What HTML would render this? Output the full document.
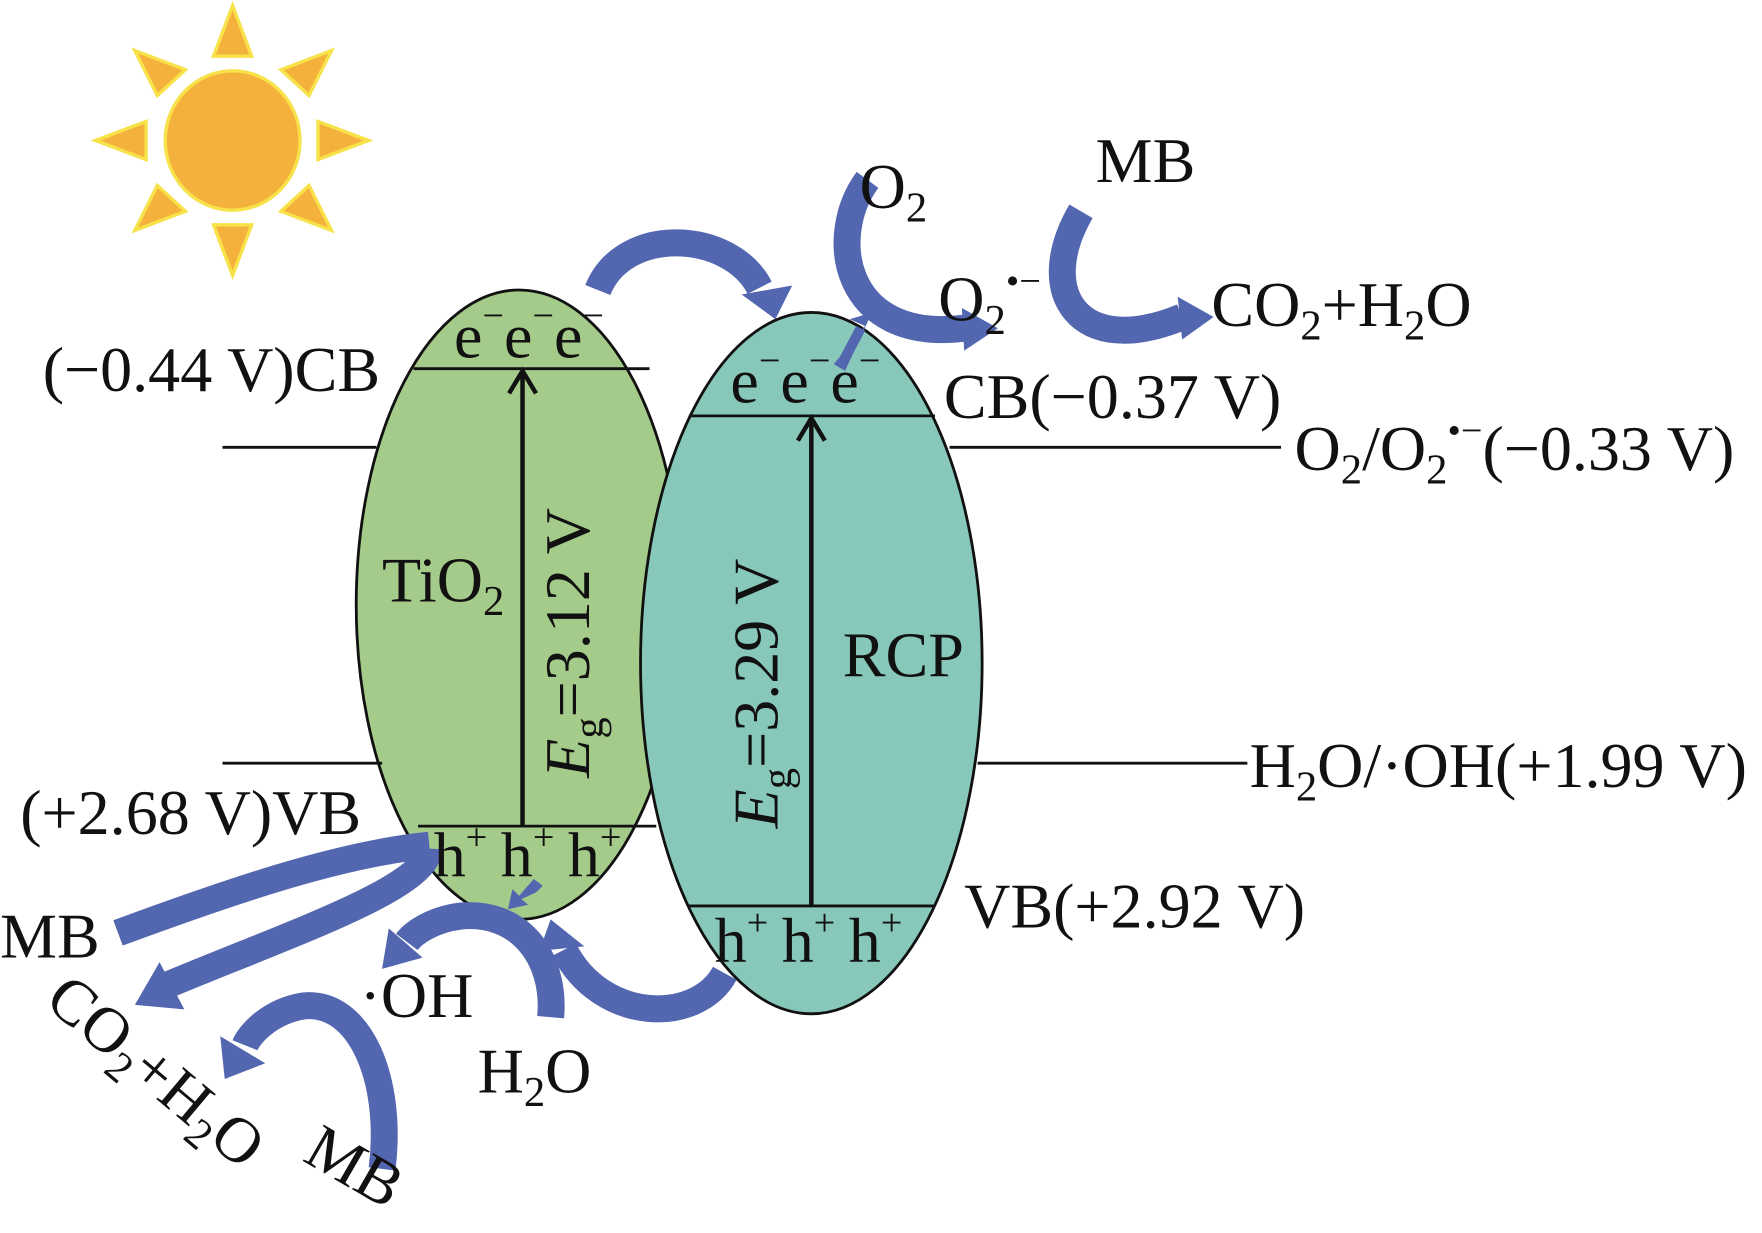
<!DOCTYPE html>
<html><head><meta charset="utf-8"><style>
html,body{margin:0;padding:0;background:#fff;}
svg{display:block;}
text{font-family:"Liberation Serif",serif;fill:#111;}
</style></head><body>
<svg width="1762" height="1233" viewBox="0 0 1568 1097" preserveAspectRatio="none" xmlns="http://www.w3.org/2000/svg">
<!-- sun -->
<g fill="#F4B23C" stroke="#F8E24A" stroke-width="3">
<polygon points="207,5 190,50 224,50"/>
<polygon points="207,245 190,200 224,200"/>
<polygon points="85,125 130,108 130,142"/>
<polygon points="328,125 283,108 283,142"/>
<polygon points="120,45 165,62 140,85"/>
<polygon points="295,45 250,62 275,85"/>
<polygon points="120,205 165,188 140,165"/>
<polygon points="295,205 250,188 275,165"/>
<ellipse cx="207" cy="125" rx="60" ry="62"/>
</g>
<!-- ellipses -->
<ellipse cx="462" cy="538" rx="145" ry="280" fill="#A5CB8A" stroke="#111" stroke-width="2.5"/>
<ellipse cx="722" cy="590" rx="152" ry="312" fill="#88C8BA" stroke="#111" stroke-width="2.5"/>
<g stroke="#111" stroke-width="2.5">
<line x1="368" y1="328" x2="578" y2="328"/>
<line x1="372" y1="735" x2="584" y2="735"/>
<line x1="613" y1="370" x2="832" y2="370"/>
<line x1="612" y1="806" x2="832" y2="806"/>
<line x1="198" y1="398" x2="335" y2="398"/>
<line x1="845" y1="398" x2="1140" y2="398"/>
<line x1="198" y1="679" x2="340" y2="679"/>
<line x1="870" y1="679" x2="1110" y2="679"/>
</g>
<g stroke="#111" stroke-width="4" fill="none">
<line x1="465" y1="735" x2="465" y2="332"/>
<polyline points="453,350 465,330 477,350"/>
<line x1="722" y1="806" x2="722" y2="374"/>
<polyline points="710,392 722,372 734,392"/>
</g>
<!-- blue arrows -->
<g fill="none" stroke="#5366B0" stroke-width="24">
<path d="M532,258 C555,200 650,205 676,256"/>
<path d="M772,160 C735,210 750,305 858,292"/>
<path d="M962,188 C920,260 960,320 1052,282"/>
<path d="M105,830 C200,795 300,760 382,752"/>
<path d="M382,755 C380,790 260,830 150,876"/>
<path d="M490,905 C495,850 460,810 410,815 C385,818 368,830 362,838"/>
<path d="M645,866 C620,912 535,910 502,845"/>
<path d="M340,1040 C350,960 320,890 270,895 C240,900 222,920 218,930"/>
</g>
<g fill="#5366B0">
<polygon points="660,262 705,254 690,284"/>
<polygon points="856,274 888,292 858,312"/>
<polygon points="1048,264 1080,282 1052,302"/>
<polygon points="142,856 120,894 164,898"/>
<polygon points="346,826 340,862 376,852"/>
<polygon points="480,846 490,818 520,842"/>
<polygon points="196,922 200,960 236,946"/>
<polygon points="770,290 756,284 776,278 752,330 742,324"/>
<polygon points="483,788 475,782 462,797 456,791 452,809 470,805 464,800 477,794"/>
</g>
<path d="M748,326 L766,292" stroke="#5366B0" stroke-width="9"/>
<!-- labels -->
<g font-size="57">
<text x="38" y="348">(−0.44 V)CB</text>
<text x="18" y="742">(+2.68 V)VB</text>
<text x="840" y="372">CB(−0.37 V)</text>
<text x="858" y="825">VB(+2.92 V)</text>
<text x="1152" y="418">O<tspan font-size="38" dy="12">2</tspan><tspan dy="-12">/O</tspan><tspan font-size="38" dy="12">2</tspan><tspan font-size="34" dy="-36">•−</tspan><tspan dy="24">(−0.33 V)</tspan></text>
<text x="1112" y="700">H<tspan font-size="38" dy="12">2</tspan><tspan dy="-12">O/·OH(+1.99 V)</tspan></text>
<text x="340" y="535">TiO<tspan font-size="38" dy="12">2</tspan></text>
<text x="750" y="602">RCP</text>
<text x="0" y="852">MB</text>
<text x="320" y="905">·OH</text>
<text x="425" y="972">H<tspan font-size="38" dy="12">2</tspan><tspan dy="-12">O</tspan></text>
<text x="765" y="185">O<tspan font-size="38" dy="12">2</tspan></text>
<text x="835" y="285">O<tspan font-size="38" dy="12">2</tspan><tspan font-size="34" dy="-36">•−</tspan></text>
<text x="975" y="162">MB</text>
<text x="1078" y="290">CO<tspan font-size="38" dy="12">2</tspan><tspan dy="-12">+H</tspan><tspan font-size="38" dy="12">2</tspan><tspan dy="-12">O</tspan></text>
<text x="404" y="318">e<tspan font-size="34" dy="-26">−</tspan><tspan dy="26">e</tspan><tspan font-size="34" dy="-26">−</tspan><tspan dy="26">e</tspan><tspan font-size="34" dy="-26">−</tspan></text>
<text x="650" y="358">e<tspan font-size="34" dy="-26">−</tspan><tspan dy="26">e</tspan><tspan font-size="34" dy="-26">−</tspan><tspan dy="26">e</tspan><tspan font-size="34" dy="-26">−</tspan></text>
<text x="386" y="780">h<tspan font-size="34" dy="-24">+</tspan><tspan dx="12" dy="24">h</tspan><tspan font-size="34" dy="-24">+</tspan><tspan dx="12" dy="24">h</tspan><tspan font-size="34" dy="-24">+</tspan></text>
<text x="636" y="856">h<tspan font-size="34" dy="-24">+</tspan><tspan dx="12" dy="24">h</tspan><tspan font-size="34" dy="-24">+</tspan><tspan dx="12" dy="24">h</tspan><tspan font-size="34" dy="-24">+</tspan></text>
<text transform="translate(524,692) rotate(-90)"><tspan font-style="italic">E</tspan><tspan font-size="38" dy="12">g</tspan><tspan dy="-12">=3.12 V</tspan></text>
<text transform="translate(692,737) rotate(-90)"><tspan font-style="italic">E</tspan><tspan font-size="38" dy="12">g</tspan><tspan dy="-12">=3.29 V</tspan></text>
<text transform="translate(38,893) rotate(40)">CO<tspan font-size="38" dy="12">2</tspan><tspan dy="-12">+H</tspan><tspan font-size="38" dy="12">2</tspan><tspan dy="-12">O</tspan></text>
<text transform="translate(268,1032) rotate(30)">MB</text>
</g>
</svg>
</body></html>
